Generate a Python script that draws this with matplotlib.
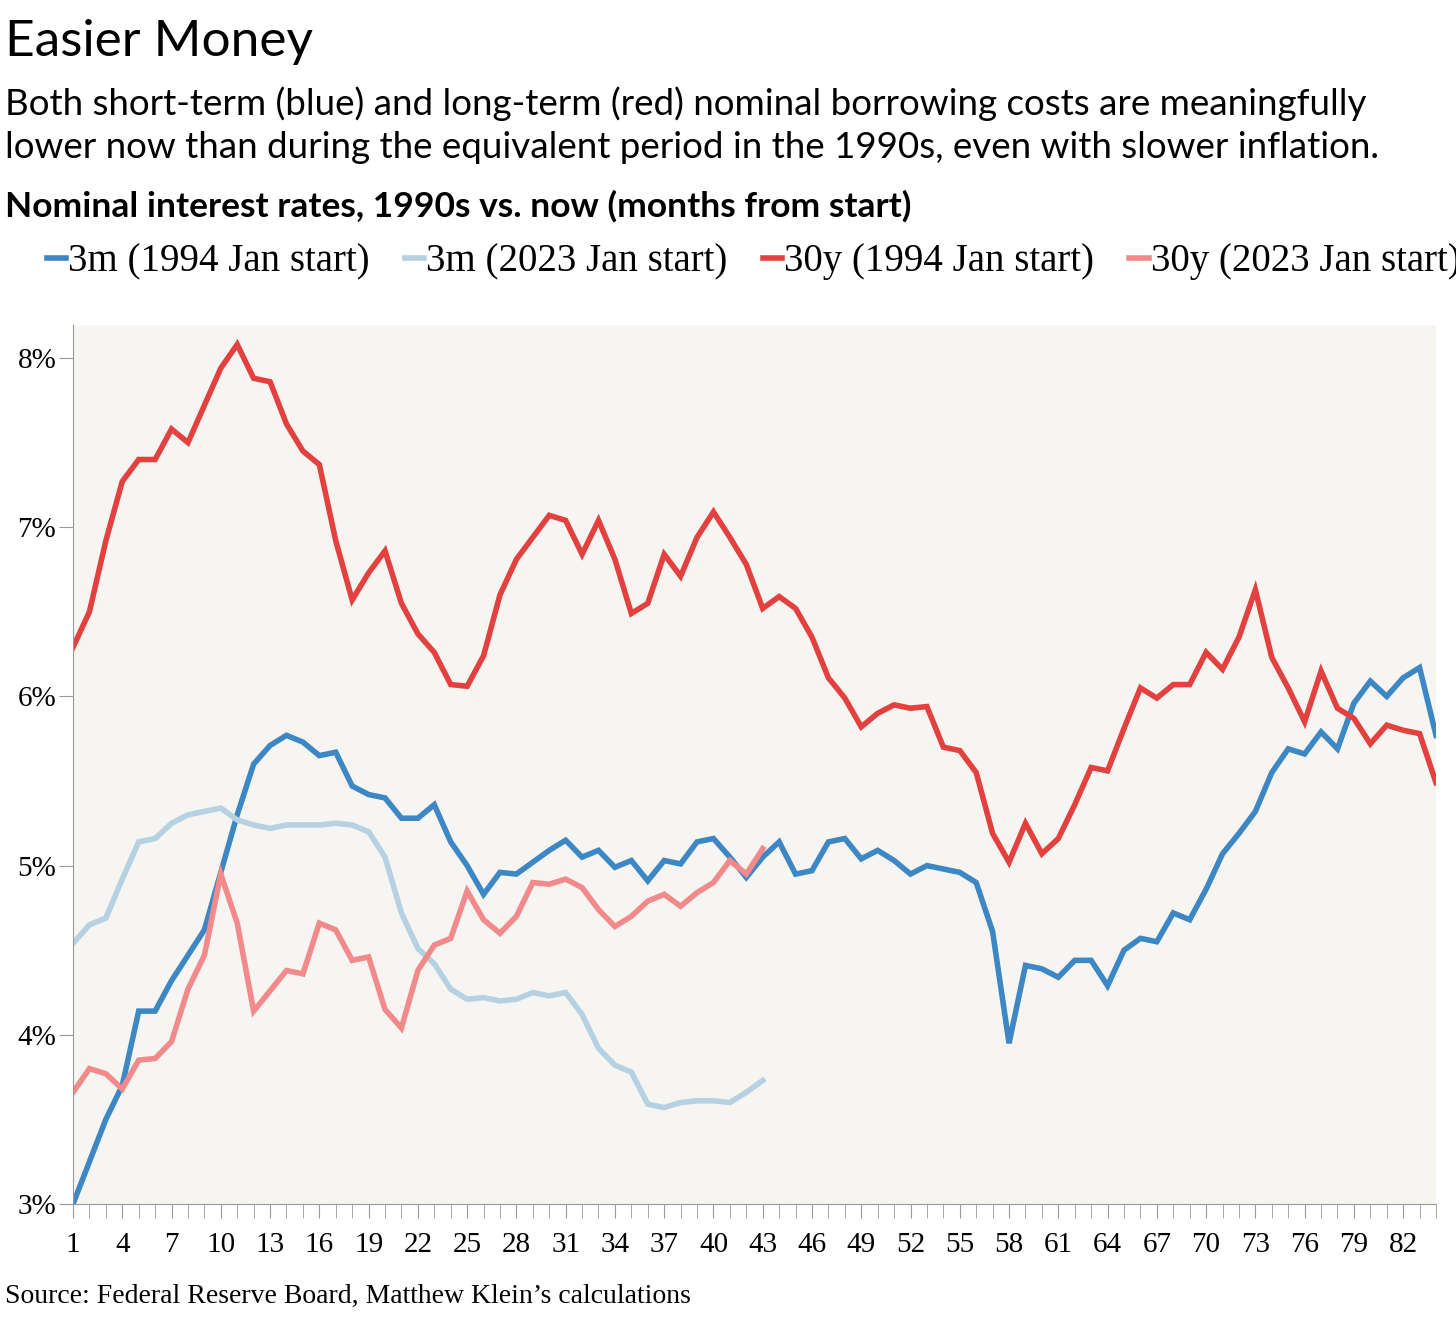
import matplotlib.pyplot as plt
import numpy as np

# months from start
months_long = np.arange(1, 85)
months_short = np.arange(1, 44)

y3m_1994 = [3.00, 3.25, 3.50, 3.70, 4.14, 4.14, 4.32, 4.47, 4.62, 4.96, 5.30, 5.60,
            5.71, 5.77, 5.73, 5.65, 5.67, 5.47, 5.42, 5.40, 5.28, 5.28, 5.36, 5.14,
            5.00, 4.83, 4.96, 4.95, 5.02, 5.09, 5.15, 5.05, 5.09, 4.99, 5.03, 4.91,
            5.03, 5.01, 5.14, 5.16, 5.05, 4.93, 5.05, 5.14, 4.95, 4.97, 5.14, 5.16,
            5.04, 5.09, 5.03, 4.95, 5.00, 4.98, 4.96, 4.90, 4.61, 3.95, 4.41, 4.39,
            4.34, 4.44, 4.44, 4.29, 4.50, 4.57, 4.55, 4.72, 4.68, 4.86, 5.07, 5.19,
            5.32, 5.55, 5.69, 5.66, 5.79, 5.69, 5.96, 6.09, 6.00, 6.11, 6.17, 5.77]
y3m_2023 = [4.54, 4.65, 4.69, 4.92, 5.14, 5.16, 5.25, 5.30, 5.32, 5.34, 5.27, 5.24,
            5.22, 5.24, 5.24, 5.24, 5.25, 5.24, 5.20, 5.05, 4.72, 4.51, 4.42, 4.27,
            4.21, 4.22, 4.20, 4.21, 4.25, 4.23, 4.25, 4.12, 3.92, 3.82, 3.78, 3.59,
            3.57, 3.60, 3.61, 3.61, 3.60, 3.66, 3.73]
y30_1994 = [6.29, 6.50, 6.92, 7.27, 7.40, 7.40, 7.58, 7.50, 7.72, 7.94, 8.08, 7.88,
            7.86, 7.61, 7.45, 7.37, 6.92, 6.57, 6.73, 6.86, 6.55, 6.37, 6.26, 6.07,
            6.06, 6.24, 6.60, 6.81, 6.94, 7.07, 7.04, 6.84, 7.04, 6.81, 6.49, 6.55,
            6.84, 6.71, 6.94, 7.09, 6.94, 6.78, 6.52, 6.59, 6.52, 6.35, 6.11, 5.99,
            5.82, 5.90, 5.95, 5.93, 5.94, 5.70, 5.68, 5.55, 5.19, 5.02, 5.25, 5.07,
            5.16, 5.36, 5.58, 5.56, 5.81, 6.05, 5.99, 6.07, 6.07, 6.26, 6.16, 6.35,
            6.63, 6.23, 6.05, 5.85, 6.15, 5.93, 5.87, 5.72, 5.83, 5.80, 5.78, 5.49]
y30_2023 = [3.66, 3.80, 3.77, 3.68, 3.85, 3.86, 3.96, 4.27, 4.47, 4.95, 4.66, 4.14,
            4.26, 4.38, 4.36, 4.66, 4.62, 4.44, 4.46, 4.15, 4.04, 4.38, 4.53, 4.57,
            4.85, 4.68, 4.60, 4.70, 4.90, 4.89, 4.92, 4.87, 4.74, 4.64, 4.70, 4.79,
            4.83, 4.76, 4.84, 4.90, 5.03, 4.95, 5.10]

series = [
    ("3m (1994 Jan start)", months_long, y3m_1994, "#3d87c4"),
    ("3m (2023 Jan start)", months_short, y3m_2023, "#b5d1e2"),
    ("30y (1994 Jan start)", months_long, y30_1994, "#e3413f"),
    ("30y (2023 Jan start)", months_short, y30_2023, "#f2898a"),
]

fig = plt.figure(figsize=(14.56, 13.18), dpi=100)
ax = fig.add_axes([73 / 1456, 1 - 1204 / 1318, (1436 - 73) / 1456, (1204 - 325) / 1318])
ax.set_facecolor("#f6f5f1")

for label, x, y, c in series:
    ax.plot(x, y, color=c, lw=4, label=label, solid_joinstyle="miter")

ax.set_xlim(1, 84)
ax.set_ylim(3, 8.195)
ax.set_xticks(months_long, minor=True)
ax.set_xticks(np.arange(1, 84, 3))
ax.set_xticklabels([str(m) for m in np.arange(1, 84, 3)], fontsize=21, family="Liberation Serif")
ax.set_yticks([3, 4, 5, 6, 7, 8])
ax.set_yticklabels(["3%", "4%", "5%", "6%", "7%", "8%"], fontsize=21, family="Liberation Serif")
ax.tick_params(axis="x", which="both", length=10, color="#999999", pad=10)
ax.tick_params(axis="y", length=10, color="#999999", pad=2, direction="out")
for s in ["top", "right"]:
    ax.spines[s].set_visible(False)
ax.spines["left"].set_color("#999999")
ax.spines["bottom"].set_color("#999999")

fig.text(5 / 1456, 1 - 42 / 1318, "Easier Money", fontsize=37, family="Lato", va="center")
fig.text(5 / 1456, 1 - 125 / 1318,
         "Both short-term (blue) and long-term (red) nominal borrowing costs are meaningfully\n"
         "lower now than during the equivalent period in the 1990s, even with slower inflation.",
         fontsize=26.5, family="Lato", va="center", linespacing=1.35)
fig.text(5 / 1456, 1 - 206 / 1318, "Nominal interest rates, 1990s vs. now (months from start)",
         fontsize=25.5, family="Lato", weight="bold", va="center")
fig.legend(loc="center left", bbox_to_anchor=(12 / 1456, 1 - 262 / 1318), ncol=4,
           frameon=False, prop={"family": "Liberation Serif", "size": 28},
           handlelength=0.5, handletextpad=0.05, columnspacing=0.9)
fig.text(5 / 1456, 1 - 1296 / 1318, "Source: Federal Reserve Board, Matthew Klein\u2019s calculations",
         fontsize=20, family="Liberation Serif", va="center")

fig.savefig("out.png", dpi=100, facecolor="white")
